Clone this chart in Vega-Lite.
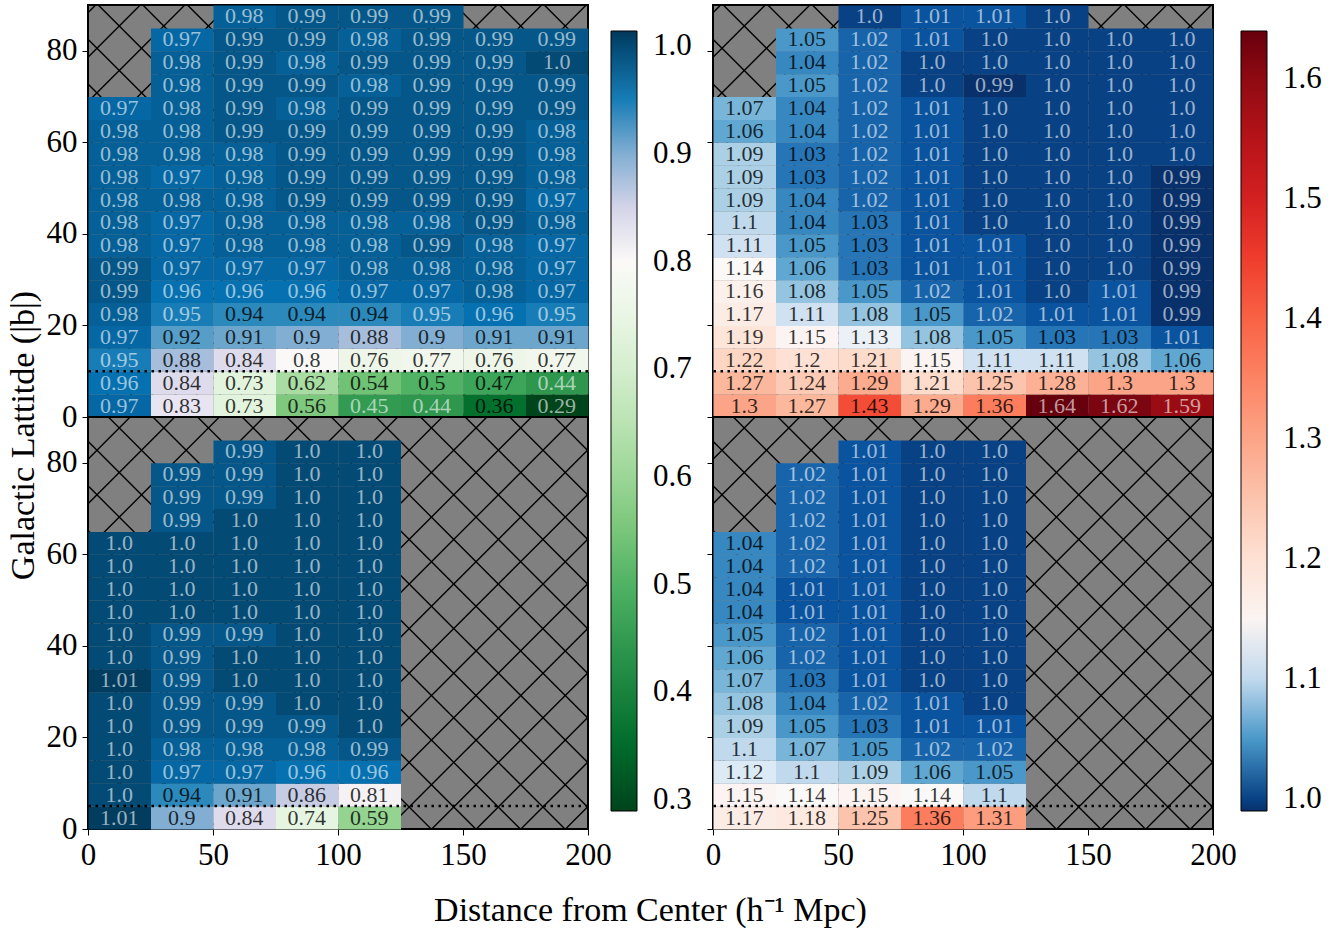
{
 "$schema": "https://vega.github.io/schema/vega-lite/v6.json",
 "background": "white",
 "padding": {"left": 5, "top": 4, "right": 5, "bottom": 5},
 "title": {"text": "Distance from Center (h⁻¹ Mpc)", "orient": "bottom", "anchor": "middle", "font": "Liberation Serif", "fontSize": 34, "fontWeight": "normal", "color": "black", "offset": 23, "dx": -13},
 "datasets": {
  "tl": [
   {"d":0,"b":0,"v":0.97},{"d":25,"b":0,"v":0.83},{"d":50,"b":0,"v":0.73},{"d":75,"b":0,"v":0.56},{"d":100,"b":0,"v":0.45},{"d":125,"b":0,"v":0.44},{"d":150,"b":0,"v":0.36},{"d":175,"b":0,"v":0.29},
   {"d":0,"b":5,"v":0.96},{"d":25,"b":5,"v":0.84},{"d":50,"b":5,"v":0.73},{"d":75,"b":5,"v":0.62},{"d":100,"b":5,"v":0.54},{"d":125,"b":5,"v":0.5},{"d":150,"b":5,"v":0.47},{"d":175,"b":5,"v":0.44},
   {"d":0,"b":10,"v":0.95},{"d":25,"b":10,"v":0.88},{"d":50,"b":10,"v":0.84},{"d":75,"b":10,"v":0.8},{"d":100,"b":10,"v":0.76},{"d":125,"b":10,"v":0.77},{"d":150,"b":10,"v":0.76},{"d":175,"b":10,"v":0.77},
   {"d":0,"b":15,"v":0.97},{"d":25,"b":15,"v":0.92},{"d":50,"b":15,"v":0.91},{"d":75,"b":15,"v":0.9},{"d":100,"b":15,"v":0.88},{"d":125,"b":15,"v":0.9},{"d":150,"b":15,"v":0.91},{"d":175,"b":15,"v":0.91},
   {"d":0,"b":20,"v":0.98},{"d":25,"b":20,"v":0.95},{"d":50,"b":20,"v":0.94},{"d":75,"b":20,"v":0.94},{"d":100,"b":20,"v":0.94},{"d":125,"b":20,"v":0.95},{"d":150,"b":20,"v":0.96},{"d":175,"b":20,"v":0.95},
   {"d":0,"b":25,"v":0.99},{"d":25,"b":25,"v":0.96},{"d":50,"b":25,"v":0.96},{"d":75,"b":25,"v":0.96},{"d":100,"b":25,"v":0.97},{"d":125,"b":25,"v":0.97},{"d":150,"b":25,"v":0.98},{"d":175,"b":25,"v":0.97},
   {"d":0,"b":30,"v":0.99},{"d":25,"b":30,"v":0.97},{"d":50,"b":30,"v":0.97},{"d":75,"b":30,"v":0.97},{"d":100,"b":30,"v":0.98},{"d":125,"b":30,"v":0.98},{"d":150,"b":30,"v":0.98},{"d":175,"b":30,"v":0.97},
   {"d":0,"b":35,"v":0.98},{"d":25,"b":35,"v":0.97},{"d":50,"b":35,"v":0.98},{"d":75,"b":35,"v":0.98},{"d":100,"b":35,"v":0.98},{"d":125,"b":35,"v":0.99},{"d":150,"b":35,"v":0.98},{"d":175,"b":35,"v":0.97},
   {"d":0,"b":40,"v":0.98},{"d":25,"b":40,"v":0.97},{"d":50,"b":40,"v":0.98},{"d":75,"b":40,"v":0.98},{"d":100,"b":40,"v":0.98},{"d":125,"b":40,"v":0.98},{"d":150,"b":40,"v":0.99},{"d":175,"b":40,"v":0.98},
   {"d":0,"b":45,"v":0.98},{"d":25,"b":45,"v":0.98},{"d":50,"b":45,"v":0.98},{"d":75,"b":45,"v":0.99},{"d":100,"b":45,"v":0.99},{"d":125,"b":45,"v":0.99},{"d":150,"b":45,"v":0.99},{"d":175,"b":45,"v":0.97},
   {"d":0,"b":50,"v":0.98},{"d":25,"b":50,"v":0.97},{"d":50,"b":50,"v":0.98},{"d":75,"b":50,"v":0.99},{"d":100,"b":50,"v":0.99},{"d":125,"b":50,"v":0.99},{"d":150,"b":50,"v":0.99},{"d":175,"b":50,"v":0.98},
   {"d":0,"b":55,"v":0.98},{"d":25,"b":55,"v":0.98},{"d":50,"b":55,"v":0.98},{"d":75,"b":55,"v":0.99},{"d":100,"b":55,"v":0.99},{"d":125,"b":55,"v":0.99},{"d":150,"b":55,"v":0.99},{"d":175,"b":55,"v":0.98},
   {"d":0,"b":60,"v":0.98},{"d":25,"b":60,"v":0.98},{"d":50,"b":60,"v":0.99},{"d":75,"b":60,"v":0.99},{"d":100,"b":60,"v":0.99},{"d":125,"b":60,"v":0.99},{"d":150,"b":60,"v":0.99},{"d":175,"b":60,"v":0.98},
   {"d":0,"b":65,"v":0.97},{"d":25,"b":65,"v":0.98},{"d":50,"b":65,"v":0.99},{"d":75,"b":65,"v":0.98},{"d":100,"b":65,"v":0.99},{"d":125,"b":65,"v":0.99},{"d":150,"b":65,"v":0.99},{"d":175,"b":65,"v":0.99},
   {"d":25,"b":70,"v":0.98},{"d":50,"b":70,"v":0.99},{"d":75,"b":70,"v":0.99},{"d":100,"b":70,"v":0.98},{"d":125,"b":70,"v":0.99},{"d":150,"b":70,"v":0.99},{"d":175,"b":70,"v":0.99},
   {"d":25,"b":75,"v":0.98},{"d":50,"b":75,"v":0.99},{"d":75,"b":75,"v":0.98},{"d":100,"b":75,"v":0.99},{"d":125,"b":75,"v":0.99},{"d":150,"b":75,"v":0.99},{"d":175,"b":75,"v":1.0},
   {"d":25,"b":80,"v":0.97},{"d":50,"b":80,"v":0.99},{"d":75,"b":80,"v":0.99},{"d":100,"b":80,"v":0.98},{"d":125,"b":80,"v":0.99},{"d":150,"b":80,"v":0.99},{"d":175,"b":80,"v":0.99},
   {"d":50,"b":85,"v":0.98},{"d":75,"b":85,"v":0.99},{"d":100,"b":85,"v":0.99},{"d":125,"b":85,"v":0.99}
  ],
  "tr": [
   {"d":0,"b":0,"v":1.3},{"d":25,"b":0,"v":1.27},{"d":50,"b":0,"v":1.43},{"d":75,"b":0,"v":1.29},{"d":100,"b":0,"v":1.36},{"d":125,"b":0,"v":1.64},{"d":150,"b":0,"v":1.62},{"d":175,"b":0,"v":1.59},
   {"d":0,"b":5,"v":1.27},{"d":25,"b":5,"v":1.24},{"d":50,"b":5,"v":1.29},{"d":75,"b":5,"v":1.21},{"d":100,"b":5,"v":1.25},{"d":125,"b":5,"v":1.28},{"d":150,"b":5,"v":1.3},{"d":175,"b":5,"v":1.3},
   {"d":0,"b":10,"v":1.22},{"d":25,"b":10,"v":1.2},{"d":50,"b":10,"v":1.21},{"d":75,"b":10,"v":1.15},{"d":100,"b":10,"v":1.11},{"d":125,"b":10,"v":1.11},{"d":150,"b":10,"v":1.08},{"d":175,"b":10,"v":1.06},
   {"d":0,"b":15,"v":1.19},{"d":25,"b":15,"v":1.15},{"d":50,"b":15,"v":1.13},{"d":75,"b":15,"v":1.08},{"d":100,"b":15,"v":1.05},{"d":125,"b":15,"v":1.03},{"d":150,"b":15,"v":1.03},{"d":175,"b":15,"v":1.01},
   {"d":0,"b":20,"v":1.17},{"d":25,"b":20,"v":1.11},{"d":50,"b":20,"v":1.08},{"d":75,"b":20,"v":1.05},{"d":100,"b":20,"v":1.02},{"d":125,"b":20,"v":1.01},{"d":150,"b":20,"v":1.01},{"d":175,"b":20,"v":0.99},
   {"d":0,"b":25,"v":1.16},{"d":25,"b":25,"v":1.08},{"d":50,"b":25,"v":1.05},{"d":75,"b":25,"v":1.02},{"d":100,"b":25,"v":1.01},{"d":125,"b":25,"v":1.0},{"d":150,"b":25,"v":1.01},{"d":175,"b":25,"v":0.99},
   {"d":0,"b":30,"v":1.14},{"d":25,"b":30,"v":1.06},{"d":50,"b":30,"v":1.03},{"d":75,"b":30,"v":1.01},{"d":100,"b":30,"v":1.01},{"d":125,"b":30,"v":1.0},{"d":150,"b":30,"v":1.0},{"d":175,"b":30,"v":0.99},
   {"d":0,"b":35,"v":1.11},{"d":25,"b":35,"v":1.05},{"d":50,"b":35,"v":1.03},{"d":75,"b":35,"v":1.01},{"d":100,"b":35,"v":1.01},{"d":125,"b":35,"v":1.0},{"d":150,"b":35,"v":1.0},{"d":175,"b":35,"v":0.99},
   {"d":0,"b":40,"v":1.1},{"d":25,"b":40,"v":1.04},{"d":50,"b":40,"v":1.03},{"d":75,"b":40,"v":1.01},{"d":100,"b":40,"v":1.0},{"d":125,"b":40,"v":1.0},{"d":150,"b":40,"v":1.0},{"d":175,"b":40,"v":0.99},
   {"d":0,"b":45,"v":1.09},{"d":25,"b":45,"v":1.04},{"d":50,"b":45,"v":1.02},{"d":75,"b":45,"v":1.01},{"d":100,"b":45,"v":1.0},{"d":125,"b":45,"v":1.0},{"d":150,"b":45,"v":1.0},{"d":175,"b":45,"v":0.99},
   {"d":0,"b":50,"v":1.09},{"d":25,"b":50,"v":1.03},{"d":50,"b":50,"v":1.02},{"d":75,"b":50,"v":1.01},{"d":100,"b":50,"v":1.0},{"d":125,"b":50,"v":1.0},{"d":150,"b":50,"v":1.0},{"d":175,"b":50,"v":0.99},
   {"d":0,"b":55,"v":1.09},{"d":25,"b":55,"v":1.03},{"d":50,"b":55,"v":1.02},{"d":75,"b":55,"v":1.01},{"d":100,"b":55,"v":1.0},{"d":125,"b":55,"v":1.0},{"d":150,"b":55,"v":1.0},{"d":175,"b":55,"v":1.0},
   {"d":0,"b":60,"v":1.06},{"d":25,"b":60,"v":1.04},{"d":50,"b":60,"v":1.02},{"d":75,"b":60,"v":1.01},{"d":100,"b":60,"v":1.0},{"d":125,"b":60,"v":1.0},{"d":150,"b":60,"v":1.0},{"d":175,"b":60,"v":1.0},
   {"d":0,"b":65,"v":1.07},{"d":25,"b":65,"v":1.04},{"d":50,"b":65,"v":1.02},{"d":75,"b":65,"v":1.01},{"d":100,"b":65,"v":1.0},{"d":125,"b":65,"v":1.0},{"d":150,"b":65,"v":1.0},{"d":175,"b":65,"v":1.0},
   {"d":25,"b":70,"v":1.05},{"d":50,"b":70,"v":1.02},{"d":75,"b":70,"v":1.0},{"d":100,"b":70,"v":0.99},{"d":125,"b":70,"v":1.0},{"d":150,"b":70,"v":1.0},{"d":175,"b":70,"v":1.0},
   {"d":25,"b":75,"v":1.04},{"d":50,"b":75,"v":1.02},{"d":75,"b":75,"v":1.0},{"d":100,"b":75,"v":1.0},{"d":125,"b":75,"v":1.0},{"d":150,"b":75,"v":1.0},{"d":175,"b":75,"v":1.0},
   {"d":25,"b":80,"v":1.05},{"d":50,"b":80,"v":1.02},{"d":75,"b":80,"v":1.01},{"d":100,"b":80,"v":1.0},{"d":125,"b":80,"v":1.0},{"d":150,"b":80,"v":1.0},{"d":175,"b":80,"v":1.0},
   {"d":50,"b":85,"v":1.0},{"d":75,"b":85,"v":1.01},{"d":100,"b":85,"v":1.01},{"d":125,"b":85,"v":1.0}
  ],
  "bl": [
   {"d":0,"b":0,"v":1.01},{"d":25,"b":0,"v":0.9},{"d":50,"b":0,"v":0.84},{"d":75,"b":0,"v":0.74},{"d":100,"b":0,"v":0.59},
   {"d":0,"b":5,"v":1.0},{"d":25,"b":5,"v":0.94},{"d":50,"b":5,"v":0.91},{"d":75,"b":5,"v":0.86},{"d":100,"b":5,"v":0.81},
   {"d":0,"b":10,"v":1.0},{"d":25,"b":10,"v":0.97},{"d":50,"b":10,"v":0.97},{"d":75,"b":10,"v":0.96},{"d":100,"b":10,"v":0.96},
   {"d":0,"b":15,"v":1.0},{"d":25,"b":15,"v":0.98},{"d":50,"b":15,"v":0.98},{"d":75,"b":15,"v":0.98},{"d":100,"b":15,"v":0.99},
   {"d":0,"b":20,"v":1.0},{"d":25,"b":20,"v":0.99},{"d":50,"b":20,"v":0.99},{"d":75,"b":20,"v":0.99},{"d":100,"b":20,"v":1.0},
   {"d":0,"b":25,"v":1.0},{"d":25,"b":25,"v":0.99},{"d":50,"b":25,"v":0.99},{"d":75,"b":25,"v":1.0},{"d":100,"b":25,"v":1.0},
   {"d":0,"b":30,"v":1.01},{"d":25,"b":30,"v":0.99},{"d":50,"b":30,"v":1.0},{"d":75,"b":30,"v":1.0},{"d":100,"b":30,"v":1.0},
   {"d":0,"b":35,"v":1.0},{"d":25,"b":35,"v":0.99},{"d":50,"b":35,"v":1.0},{"d":75,"b":35,"v":1.0},{"d":100,"b":35,"v":1.0},
   {"d":0,"b":40,"v":1.0},{"d":25,"b":40,"v":0.99},{"d":50,"b":40,"v":0.99},{"d":75,"b":40,"v":1.0},{"d":100,"b":40,"v":1.0},
   {"d":0,"b":45,"v":1.0},{"d":25,"b":45,"v":1.0},{"d":50,"b":45,"v":1.0},{"d":75,"b":45,"v":1.0},{"d":100,"b":45,"v":1.0},
   {"d":0,"b":50,"v":1.0},{"d":25,"b":50,"v":1.0},{"d":50,"b":50,"v":1.0},{"d":75,"b":50,"v":1.0},{"d":100,"b":50,"v":1.0},
   {"d":0,"b":55,"v":1.0},{"d":25,"b":55,"v":1.0},{"d":50,"b":55,"v":1.0},{"d":75,"b":55,"v":1.0},{"d":100,"b":55,"v":1.0},
   {"d":0,"b":60,"v":1.0},{"d":25,"b":60,"v":1.0},{"d":50,"b":60,"v":1.0},{"d":75,"b":60,"v":1.0},{"d":100,"b":60,"v":1.0},
   {"d":25,"b":65,"v":0.99},{"d":50,"b":65,"v":1.0},{"d":75,"b":65,"v":1.0},{"d":100,"b":65,"v":1.0},
   {"d":25,"b":70,"v":0.99},{"d":50,"b":70,"v":0.99},{"d":75,"b":70,"v":1.0},{"d":100,"b":70,"v":1.0},
   {"d":25,"b":75,"v":0.99},{"d":50,"b":75,"v":0.99},{"d":75,"b":75,"v":1.0},{"d":100,"b":75,"v":1.0},
   {"d":50,"b":80,"v":0.99},{"d":75,"b":80,"v":1.0},{"d":100,"b":80,"v":1.0}
  ],
  "br": [
   {"d":0,"b":0,"v":1.17},{"d":25,"b":0,"v":1.18},{"d":50,"b":0,"v":1.25},{"d":75,"b":0,"v":1.36},{"d":100,"b":0,"v":1.31},
   {"d":0,"b":5,"v":1.15},{"d":25,"b":5,"v":1.14},{"d":50,"b":5,"v":1.15},{"d":75,"b":5,"v":1.14},{"d":100,"b":5,"v":1.1},
   {"d":0,"b":10,"v":1.12},{"d":25,"b":10,"v":1.1},{"d":50,"b":10,"v":1.09},{"d":75,"b":10,"v":1.06},{"d":100,"b":10,"v":1.05},
   {"d":0,"b":15,"v":1.1},{"d":25,"b":15,"v":1.07},{"d":50,"b":15,"v":1.05},{"d":75,"b":15,"v":1.02},{"d":100,"b":15,"v":1.02},
   {"d":0,"b":20,"v":1.09},{"d":25,"b":20,"v":1.05},{"d":50,"b":20,"v":1.03},{"d":75,"b":20,"v":1.01},{"d":100,"b":20,"v":1.01},
   {"d":0,"b":25,"v":1.08},{"d":25,"b":25,"v":1.04},{"d":50,"b":25,"v":1.02},{"d":75,"b":25,"v":1.01},{"d":100,"b":25,"v":1.0},
   {"d":0,"b":30,"v":1.07},{"d":25,"b":30,"v":1.03},{"d":50,"b":30,"v":1.01},{"d":75,"b":30,"v":1.0},{"d":100,"b":30,"v":1.0},
   {"d":0,"b":35,"v":1.06},{"d":25,"b":35,"v":1.02},{"d":50,"b":35,"v":1.01},{"d":75,"b":35,"v":1.0},{"d":100,"b":35,"v":1.0},
   {"d":0,"b":40,"v":1.05},{"d":25,"b":40,"v":1.02},{"d":50,"b":40,"v":1.01},{"d":75,"b":40,"v":1.0},{"d":100,"b":40,"v":1.0},
   {"d":0,"b":45,"v":1.04},{"d":25,"b":45,"v":1.01},{"d":50,"b":45,"v":1.01},{"d":75,"b":45,"v":1.0},{"d":100,"b":45,"v":1.0},
   {"d":0,"b":50,"v":1.04},{"d":25,"b":50,"v":1.01},{"d":50,"b":50,"v":1.01},{"d":75,"b":50,"v":1.0},{"d":100,"b":50,"v":1.0},
   {"d":0,"b":55,"v":1.04},{"d":25,"b":55,"v":1.02},{"d":50,"b":55,"v":1.01},{"d":75,"b":55,"v":1.0},{"d":100,"b":55,"v":1.0},
   {"d":0,"b":60,"v":1.04},{"d":25,"b":60,"v":1.02},{"d":50,"b":60,"v":1.01},{"d":75,"b":60,"v":1.0},{"d":100,"b":60,"v":1.0},
   {"d":25,"b":65,"v":1.02},{"d":50,"b":65,"v":1.01},{"d":75,"b":65,"v":1.0},{"d":100,"b":65,"v":1.0},
   {"d":25,"b":70,"v":1.02},{"d":50,"b":70,"v":1.01},{"d":75,"b":70,"v":1.0},{"d":100,"b":70,"v":1.0},
   {"d":25,"b":75,"v":1.02},{"d":50,"b":75,"v":1.01},{"d":75,"b":75,"v":1.0},{"d":100,"b":75,"v":1.0},
   {"d":50,"b":80,"v":1.01},{"d":75,"b":80,"v":1.0},{"d":100,"b":80,"v":1.0}
  ],
  "hatchTop": [
   {"x":-156.46,"y":90,"x2":8.34,"y2":0},{"x":-138.62,"y":90,"x2":26.18,"y2":0},{"x":-120.78,"y":90,"x2":44.02,"y2":0},{"x":-102.94,"y":90,"x2":61.86,"y2":0},{"x":-85.1,"y":90,"x2":79.7,"y2":0},{"x":-67.26,"y":90,"x2":97.54,"y2":0},{"x":-49.42,"y":90,"x2":115.38,"y2":0},{"x":-31.58,"y":90,"x2":133.22,"y2":0},{"x":-13.74,"y":90,"x2":151.06,"y2":0},{"x":4.1,"y":90,"x2":168.9,"y2":0},{"x":21.94,"y":90,"x2":186.74,"y2":0},{"x":39.78,"y":90,"x2":204.58,"y2":0},{"x":57.62,"y":90,"x2":222.42,"y2":0},{"x":75.46,"y":90,"x2":240.26,"y2":0},{"x":93.3,"y":90,"x2":258.1,"y2":0},{"x":111.14,"y":90,"x2":275.94,"y2":0},{"x":128.98,"y":90,"x2":293.78,"y2":0},{"x":146.82,"y":90,"x2":311.62,"y2":0},{"x":164.66,"y":90,"x2":329.46,"y2":0},{"x":182.5,"y":90,"x2":347.3,"y2":0},
   {"x":3.06,"y":90,"x2":-161.74,"y2":0},{"x":20.9,"y":90,"x2":-143.9,"y2":0},{"x":38.74,"y":90,"x2":-126.06,"y2":0},{"x":56.58,"y":90,"x2":-108.22,"y2":0},{"x":74.42,"y":90,"x2":-90.38,"y2":0},{"x":92.26,"y":90,"x2":-72.54,"y2":0},{"x":110.1,"y":90,"x2":-54.7,"y2":0},{"x":127.94,"y":90,"x2":-36.86,"y2":0},{"x":145.78,"y":90,"x2":-19.02,"y2":0},{"x":163.62,"y":90,"x2":-1.18,"y2":0},{"x":181.46,"y":90,"x2":16.66,"y2":0},{"x":199.3,"y":90,"x2":34.5,"y2":0},{"x":217.14,"y":90,"x2":52.34,"y2":0},{"x":234.98,"y":90,"x2":70.18,"y2":0},{"x":252.82,"y":90,"x2":88.02,"y2":0},{"x":270.66,"y":90,"x2":105.86,"y2":0},{"x":288.5,"y":90,"x2":123.7,"y2":0},{"x":306.34,"y":90,"x2":141.54,"y2":0},{"x":324.18,"y":90,"x2":159.38,"y2":0},{"x":342.02,"y":90,"x2":177.22,"y2":0},{"x":359.86,"y":90,"x2":195.06,"y2":0}
  ],
  "hatchBot": [
   {"x":-152.42,"y":90,"x2":12.38,"y2":0},{"x":-134.58,"y":90,"x2":30.22,"y2":0},{"x":-116.74,"y":90,"x2":48.06,"y2":0},{"x":-98.9,"y":90,"x2":65.9,"y2":0},{"x":-81.06,"y":90,"x2":83.74,"y2":0},{"x":-63.22,"y":90,"x2":101.58,"y2":0},{"x":-45.38,"y":90,"x2":119.42,"y2":0},{"x":-27.54,"y":90,"x2":137.26,"y2":0},{"x":-9.7,"y":90,"x2":155.1,"y2":0},{"x":8.14,"y":90,"x2":172.94,"y2":0},{"x":25.98,"y":90,"x2":190.78,"y2":0},{"x":43.82,"y":90,"x2":208.62,"y2":0},{"x":61.66,"y":90,"x2":226.46,"y2":0},{"x":79.5,"y":90,"x2":244.3,"y2":0},{"x":97.34,"y":90,"x2":262.14,"y2":0},{"x":115.18,"y":90,"x2":279.98,"y2":0},{"x":133.02,"y":90,"x2":297.82,"y2":0},{"x":150.86,"y":90,"x2":315.66,"y2":0},{"x":168.7,"y":90,"x2":333.5,"y2":0},{"x":186.54,"y":90,"x2":351.34,"y2":0},
   {"x":16.86,"y":90,"x2":-147.94,"y2":0},{"x":34.7,"y":90,"x2":-130.1,"y2":0},{"x":52.54,"y":90,"x2":-112.26,"y2":0},{"x":70.38,"y":90,"x2":-94.42,"y2":0},{"x":88.22,"y":90,"x2":-76.58,"y2":0},{"x":106.06,"y":90,"x2":-58.74,"y2":0},{"x":123.9,"y":90,"x2":-40.9,"y2":0},{"x":141.74,"y":90,"x2":-23.06,"y2":0},{"x":159.58,"y":90,"x2":-5.22,"y2":0},{"x":177.42,"y":90,"x2":12.62,"y2":0},{"x":195.26,"y":90,"x2":30.46,"y2":0},{"x":213.1,"y":90,"x2":48.3,"y2":0},{"x":230.94,"y":90,"x2":66.14,"y2":0},{"x":248.78,"y":90,"x2":83.98,"y2":0},{"x":266.62,"y":90,"x2":101.82,"y2":0},{"x":284.46,"y":90,"x2":119.66,"y2":0},{"x":302.3,"y":90,"x2":137.5,"y2":0},{"x":320.14,"y":90,"x2":155.34,"y2":0},{"x":337.98,"y":90,"x2":173.18,"y2":0},{"x":355.82,"y":90,"x2":191.02,"y2":0}
  ],
  "lineTop": [{"b":10}],
  "lineBot": [{"b":5}]
 },
 "hconcat": [
  {
   "vconcat": [
    {
     "width": 500, "height": 412,
     "layer": [
      {"data": {"name": "hatchTop"}, "mark": {"type": "rule", "clip": true, "color": "black", "strokeWidth": 1.4},
       "encoding": {
        "x": {"field": "x", "type": "quantitative", "scale": {"domain": [0, 200], "nice": false, "zero": false}, "axis": {"labels": false, "ticks": false, "title": null}},
        "x2": {"field": "x2"},
        "y": {"field": "y", "type": "quantitative", "scale": {"domain": [0, 90], "nice": false, "zero": false}, "axis": {"values": [0, 20, 40, 60, 80], "title": "Galactic Lattitde (|b|)", "titleX": -65, "titleY": 430, "titleAngle": 270, "titleAlign": "center", "titleBaseline": "middle"}},
        "y2": {"field": "y2"}}},
      {"data": {"name": "tl"}, "mark": {"type": "rect"},
       "encoding": {
        "x": {"field": "d", "type": "quantitative", "bin": {"step": 25, "extent": [0, 200]}, "scale": {"domain": [0, 200], "nice": false, "zero": false}, "axis": {"labels": false, "ticks": false, "title": null}},
        "y": {"field": "b", "type": "quantitative", "bin": {"step": 5, "extent": [0, 90]}, "scale": {"domain": [0, 90], "nice": false, "zero": false}, "axis": {"values": [0, 20, 40, 60, 80], "title": "Galactic Lattitde (|b|)", "titleX": -65, "titleY": 430, "titleAngle": 270, "titleAlign": "center", "titleBaseline": "middle"}},
        "color": {"field": "v", "type": "quantitative",
         "scale": {"domain": [0.29, 0.35375, 0.4175, 0.48125, 0.545, 0.60875, 0.6725, 0.73625, 0.8, 0.82675, 0.8535, 0.88025, 0.907, 0.93375, 0.9605, 0.98725, 1.014], "range": ["#00441b", "#006d2c", "#238b45", "#41ab5d", "#74c476", "#a1d99b", "#c7e9c0", "#e5f5e0", "#fbf9f8", "#ece7f2", "#d0d1e6", "#a6bddb", "#74a9cf", "#3690c0", "#0570b0", "#045a8d", "#023858"], "interpolate": "rgb", "nice": false, "zero": false},
         "legend": {"orient": "none", "legendX": 523, "legendY": 26, "direction": "vertical", "gradientLength": 780, "gradientThickness": 26, "title": null, "values": [0.3, 0.4, 0.5, 0.6, 0.7, 0.8, 0.9, 1.0], "format": ".1f", "labelOffset": 16, "gradientStrokeColor": "black", "gradientStrokeWidth": 1, "labelOverlap": false}}
       }},
      {"data": {"name": "tl"}, "mark": {"type": "text", "font": "Liberation Serif", "fontSize": 22, "baseline": "middle", "align": "center"},
       "encoding": {
        "x": {"field": "d", "type": "quantitative", "bin": {"step": 25, "extent": [0, 200]}, "scale": {"domain": [0, 200], "nice": false, "zero": false}, "axis": {"labels": false, "ticks": false, "title": null}},
        "y": {"field": "b", "type": "quantitative", "bin": {"step": 5, "extent": [0, 90]}, "scale": {"domain": [0, 90], "nice": false, "zero": false}, "axis": {"values": [0, 20, 40, 60, 80], "title": "Galactic Lattitde (|b|)", "titleX": -65, "titleY": 430, "titleAngle": 270, "titleAlign": "center", "titleBaseline": "middle"}},
        "text": {"condition": {"test": "datum.v == 1", "value": "1.0"}, "field": "v", "type": "quantitative", "format": ".2~f"},
        "color": {"condition": {"test": "datum.v >= 0.945 || (datum.v <= 0.455 && datum.v != 0.36)", "value": "rgba(255,255,255,0.6)"}, "value": "rgba(0,0,0,0.8)"}
       }},
      {"data": {"name": "lineTop"}, "mark": {"type": "rule", "color": "black", "strokeWidth": 2.5, "strokeDash": [2.5, 4.5]},
       "encoding": {"y": {"field": "b", "type": "quantitative", "scale": {"domain": [0, 90], "nice": false, "zero": false}, "axis": {"values": [0, 20, 40, 60, 80], "title": "Galactic Lattitde (|b|)", "titleX": -65, "titleY": 430, "titleAngle": 270, "titleAlign": "center", "titleBaseline": "middle"}}}}
     ]
    },
    {
     "width": 500, "height": 412,
     "layer": [
      {"data": {"name": "hatchBot"}, "mark": {"type": "rule", "clip": true, "color": "black", "strokeWidth": 1.4},
       "encoding": {
        "x": {"field": "x", "type": "quantitative", "scale": {"domain": [0, 200], "nice": false, "zero": false}, "axis": {"values": [0, 50, 100, 150, 200], "title": null}},
        "x2": {"field": "x2"},
        "y": {"field": "y", "type": "quantitative", "scale": {"domain": [0, 90], "nice": false, "zero": false}, "axis": {"values": [0, 20, 40, 60, 80], "title": null}},
        "y2": {"field": "y2"}}},
      {"data": {"name": "bl"}, "mark": {"type": "rect"},
       "encoding": {
        "x": {"field": "d", "type": "quantitative", "bin": {"step": 25, "extent": [0, 200]}, "scale": {"domain": [0, 200], "nice": false, "zero": false}, "axis": {"values": [0, 50, 100, 150, 200], "title": null}},
        "y": {"field": "b", "type": "quantitative", "bin": {"step": 5, "extent": [0, 90]}, "scale": {"domain": [0, 90], "nice": false, "zero": false}, "axis": {"values": [0, 20, 40, 60, 80], "title": null}},
        "color": {"field": "v", "type": "quantitative",
         "scale": {"domain": [0.29, 0.35375, 0.4175, 0.48125, 0.545, 0.60875, 0.6725, 0.73625, 0.8, 0.82675, 0.8535, 0.88025, 0.907, 0.93375, 0.9605, 0.98725, 1.014], "range": ["#00441b", "#006d2c", "#238b45", "#41ab5d", "#74c476", "#a1d99b", "#c7e9c0", "#e5f5e0", "#fbf9f8", "#ece7f2", "#d0d1e6", "#a6bddb", "#74a9cf", "#3690c0", "#0570b0", "#045a8d", "#023858"], "interpolate": "rgb", "nice": false, "zero": false},
         "legend": {"orient": "none", "legendX": 523, "legendY": 26, "direction": "vertical", "gradientLength": 780, "gradientThickness": 26, "title": null, "values": [0.3, 0.4, 0.5, 0.6, 0.7, 0.8, 0.9, 1.0], "format": ".1f", "labelOffset": 16, "gradientStrokeColor": "black", "gradientStrokeWidth": 1, "labelOverlap": false}}
       }},
      {"data": {"name": "bl"}, "mark": {"type": "text", "font": "Liberation Serif", "fontSize": 22, "baseline": "middle", "align": "center"},
       "encoding": {
        "x": {"field": "d", "type": "quantitative", "bin": {"step": 25, "extent": [0, 200]}, "scale": {"domain": [0, 200], "nice": false, "zero": false}, "axis": {"values": [0, 50, 100, 150, 200], "title": null}},
        "y": {"field": "b", "type": "quantitative", "bin": {"step": 5, "extent": [0, 90]}, "scale": {"domain": [0, 90], "nice": false, "zero": false}, "axis": {"values": [0, 20, 40, 60, 80], "title": null}},
        "text": {"condition": {"test": "datum.v == 1", "value": "1.0"}, "field": "v", "type": "quantitative", "format": ".2~f"},
        "color": {"condition": {"test": "datum.v >= 0.945 || (datum.v <= 0.455 && datum.v != 0.36)", "value": "rgba(255,255,255,0.6)"}, "value": "rgba(0,0,0,0.8)"}
       }},
      {"data": {"name": "lineBot"}, "mark": {"type": "rule", "color": "black", "strokeWidth": 2.5, "strokeDash": [2.5, 4.5]},
       "encoding": {"y": {"field": "b", "type": "quantitative", "scale": {"domain": [0, 90], "nice": false, "zero": false}, "axis": {"values": [0, 20, 40, 60, 80], "title": null}}}}
     ]
    }
   ],
   "spacing": 0,
   "bounds": "flush"
  },
  {
   "vconcat": [
    {
     "width": 500, "height": 412,
     "layer": [
      {"data": {"name": "hatchTop"}, "mark": {"type": "rule", "clip": true, "color": "black", "strokeWidth": 1.4},
       "encoding": {
        "x": {"field": "x", "type": "quantitative", "scale": {"domain": [0, 200], "nice": false, "zero": false}, "axis": {"labels": false, "ticks": false, "title": null}},
        "x2": {"field": "x2"},
        "y": {"field": "y", "type": "quantitative", "scale": {"domain": [0, 90], "nice": false, "zero": false}, "axis": {"values": [0, 20, 40, 60, 80], "labels": false, "title": null}},
        "y2": {"field": "y2"}}},
      {"data": {"name": "tr"}, "mark": {"type": "rect"},
       "encoding": {
        "x": {"field": "d", "type": "quantitative", "bin": {"step": 25, "extent": [0, 200]}, "scale": {"domain": [0, 200], "nice": false, "zero": false}, "axis": {"labels": false, "ticks": false, "title": null}},
        "y": {"field": "b", "type": "quantitative", "bin": {"step": 5, "extent": [0, 90]}, "scale": {"domain": [0, 90], "nice": false, "zero": false}, "axis": {"values": [0, 20, 40, 60, 80], "labels": false, "title": null}},
        "color": {"field": "v", "type": "quantitative",
         "scale": {"domain": [0.99, 1.00875, 1.0275, 1.04625, 1.065, 1.08375, 1.1025, 1.12125, 1.14, 1.2025, 1.265, 1.3275, 1.39, 1.4525, 1.515, 1.5775, 1.64], "range": ["#08306b", "#08519c", "#2171b5", "#4292c6", "#6baed6", "#9ecae1", "#c6dbef", "#deebf7", "#fbf8f8", "#fee0d2", "#fcbba1", "#fc9272", "#fb6a4a", "#ef3b2c", "#cb181d", "#a50f15", "#67000d"], "interpolate": "rgb", "nice": false, "zero": false},
         "legend": {"orient": "none", "legendX": 528, "legendY": 26, "direction": "vertical", "gradientLength": 780, "gradientThickness": 26, "title": null, "values": [1.0, 1.1, 1.2, 1.3, 1.4, 1.5, 1.6], "format": ".1f", "labelOffset": 16, "gradientStrokeColor": "black", "gradientStrokeWidth": 1, "labelOverlap": false}}
       }},
      {"data": {"name": "tr"}, "mark": {"type": "text", "font": "Liberation Serif", "fontSize": 22, "baseline": "middle", "align": "center"},
       "encoding": {
        "x": {"field": "d", "type": "quantitative", "bin": {"step": 25, "extent": [0, 200]}, "scale": {"domain": [0, 200], "nice": false, "zero": false}, "axis": {"labels": false, "ticks": false, "title": null}},
        "y": {"field": "b", "type": "quantitative", "bin": {"step": 5, "extent": [0, 90]}, "scale": {"domain": [0, 90], "nice": false, "zero": false}, "axis": {"values": [0, 20, 40, 60, 80], "labels": false, "title": null}},
        "text": {"condition": {"test": "datum.v == 1", "value": "1.0"}, "field": "v", "type": "quantitative", "format": ".2~f"},
        "color": {"condition": {"test": "datum.v <= 1.025 || datum.v >= 1.5", "value": "rgba(255,255,255,0.6)"}, "value": "rgba(0,0,0,0.8)"}
       }},
      {"data": {"name": "lineTop"}, "mark": {"type": "rule", "color": "black", "strokeWidth": 2.5, "strokeDash": [2.5, 4.5]},
       "encoding": {"y": {"field": "b", "type": "quantitative", "scale": {"domain": [0, 90], "nice": false, "zero": false}, "axis": {"values": [0, 20, 40, 60, 80], "labels": false, "title": null}}}}
     ]
    },
    {
     "width": 500, "height": 412,
     "layer": [
      {"data": {"name": "hatchBot"}, "mark": {"type": "rule", "clip": true, "color": "black", "strokeWidth": 1.4},
       "encoding": {
        "x": {"field": "x", "type": "quantitative", "scale": {"domain": [0, 200], "nice": false, "zero": false}, "axis": {"values": [0, 50, 100, 150, 200], "title": null}},
        "x2": {"field": "x2"},
        "y": {"field": "y", "type": "quantitative", "scale": {"domain": [0, 90], "nice": false, "zero": false}, "axis": {"values": [0, 20, 40, 60, 80], "labels": false, "title": null}},
        "y2": {"field": "y2"}}},
      {"data": {"name": "br"}, "mark": {"type": "rect"},
       "encoding": {
        "x": {"field": "d", "type": "quantitative", "bin": {"step": 25, "extent": [0, 200]}, "scale": {"domain": [0, 200], "nice": false, "zero": false}, "axis": {"values": [0, 50, 100, 150, 200], "title": null}},
        "y": {"field": "b", "type": "quantitative", "bin": {"step": 5, "extent": [0, 90]}, "scale": {"domain": [0, 90], "nice": false, "zero": false}, "axis": {"values": [0, 20, 40, 60, 80], "labels": false, "title": null}},
        "color": {"field": "v", "type": "quantitative",
         "scale": {"domain": [0.99, 1.00875, 1.0275, 1.04625, 1.065, 1.08375, 1.1025, 1.12125, 1.14, 1.2025, 1.265, 1.3275, 1.39, 1.4525, 1.515, 1.5775, 1.64], "range": ["#08306b", "#08519c", "#2171b5", "#4292c6", "#6baed6", "#9ecae1", "#c6dbef", "#deebf7", "#fbf8f8", "#fee0d2", "#fcbba1", "#fc9272", "#fb6a4a", "#ef3b2c", "#cb181d", "#a50f15", "#67000d"], "interpolate": "rgb", "nice": false, "zero": false},
         "legend": {"orient": "none", "legendX": 528, "legendY": 26, "direction": "vertical", "gradientLength": 780, "gradientThickness": 26, "title": null, "values": [1.0, 1.1, 1.2, 1.3, 1.4, 1.5, 1.6], "format": ".1f", "labelOffset": 16, "gradientStrokeColor": "black", "gradientStrokeWidth": 1, "labelOverlap": false}}
       }},
      {"data": {"name": "br"}, "mark": {"type": "text", "font": "Liberation Serif", "fontSize": 22, "baseline": "middle", "align": "center"},
       "encoding": {
        "x": {"field": "d", "type": "quantitative", "bin": {"step": 25, "extent": [0, 200]}, "scale": {"domain": [0, 200], "nice": false, "zero": false}, "axis": {"values": [0, 50, 100, 150, 200], "title": null}},
        "y": {"field": "b", "type": "quantitative", "bin": {"step": 5, "extent": [0, 90]}, "scale": {"domain": [0, 90], "nice": false, "zero": false}, "axis": {"values": [0, 20, 40, 60, 80], "labels": false, "title": null}},
        "text": {"condition": {"test": "datum.v == 1", "value": "1.0"}, "field": "v", "type": "quantitative", "format": ".2~f"},
        "color": {"condition": {"test": "datum.v <= 1.025 || datum.v >= 1.5", "value": "rgba(255,255,255,0.6)"}, "value": "rgba(0,0,0,0.8)"}
       }},
      {"data": {"name": "lineBot"}, "mark": {"type": "rule", "color": "black", "strokeWidth": 2.5, "strokeDash": [2.5, 4.5]},
       "encoding": {"y": {"field": "b", "type": "quantitative", "scale": {"domain": [0, 90], "nice": false, "zero": false}, "axis": {"values": [0, 20, 40, 60, 80], "labels": false, "title": null}}}}
     ]
    }
   ],
   "spacing": 0,
   "bounds": "flush"
  }
 ],
 "spacing": 625,
 "bounds": "flush",
 "resolve": {"scale": {"color": "independent"}},
 "config": {
  "font": "Liberation Serif",
  "view": {"fill": "#808080", "stroke": "black", "strokeWidth": 2},
  "axis": {"labelFont": "Liberation Serif", "labelFontSize": 31, "labelColor": "black", "tickColor": "black", "tickSize": 6, "tickWidth": 1, "domain": false, "grid": false, "labelPadding": 5, "labelFlush": false, "labelOverlap": false, "titleFont": "Liberation Serif", "titleFontSize": 34, "titleFontWeight": "normal", "titleColor": "black"},
  "legend": {"labelFont": "Liberation Serif", "labelFontSize": 31, "labelColor": "black", "padding": 0}
 }
}
